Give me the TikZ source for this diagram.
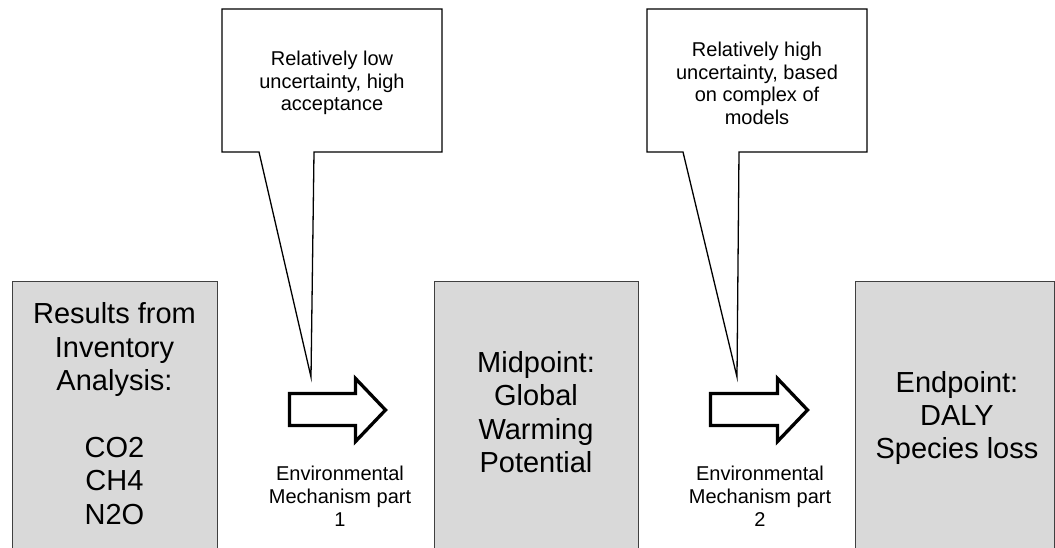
\documentclass[tikz,border=0pt]{standalone}
\usepackage{fontspec}
\setmainfont{Liberation Sans}
\begin{document}
\begin{tikzpicture}[x=1pt,y=-1pt,
  panel/.style={draw=black!75, line width=1.2pt, fill=black!15, inner sep=0pt, anchor=north west},
  paneltext/.style={align=center, inner sep=0pt, font=\fontsize{29}{33.4}\selectfont},
  callout/.style={draw=black, line width=1.3pt, fill=white, line join=miter},
  callouttext/.style={align=center, inner sep=0pt, anchor=north, font=\fontsize{20}{22.5}\selectfont},
  blockarrow/.style={draw=black, line width=3.3pt, fill=white, line join=miter},
  mechtext/.style={align=center, inner sep=0pt, anchor=north, font=\fontsize{20}{23}\selectfont}]
\path[use as bounding box, clip] (0,0) rectangle (1055,548);

% three stage panels, running off the bottom edge
\node[panel, minimum width=205pt, minimum height=300pt] (inv) at (12,281) {};
\node[panel, minimum width=204pt, minimum height=300pt] (mid) at (434,281) {};
\node[panel, minimum width=199pt, minimum height=300pt] (end) at (855,281) {};

\node[paneltext] (invtext) at (114.5,413.5)
  {Results from\\Inventory\\Analysis:\\[33.4pt]CO2\\CH4\\N2O};
\node[paneltext] (midtext) at (536,412) {Midpoint:\\Global\\Warming\\Potential};
\node[paneltext] (endtext) at (957,418) {Endpoint:\\DALY\\Species loss};

% block arrows between the panels
\coordinate (a1) at (289.5,393.5);
\coordinate (a2) at (710.5,393.5);
\draw[blockarrow] (a1) -- ++(66,0) -- ++(0,-15) -- ++(30,31.5) -- ++(-30,31.5)
  -- ++(0,-16) -- ++(-66,0) -- cycle;
\draw[blockarrow] (a2) -- ++(67,0) -- ++(0,-15) -- ++(30,31.5) -- ++(-30,31.5)
  -- ++(0,-16) -- ++(-67,0) -- cycle;

\node[mechtext] (mech1) at (340,465.5) {Environmental\\Mechanism part\\1};
\node[mechtext] (mech2) at (760,465.5) {Environmental\\Mechanism part\\2};

% speech-bubble callouts pointing at the arrows
\coordinate (tip1) at (311,377);
\coordinate (tip2) at (737,377);
\draw[callout] (222,9) -- (442,9) -- (442,152) -- (314,152) -- (tip1)
  -- (259,152) -- (222,152) -- cycle;
\draw[callout] (647,9) -- (867,9) -- (867,152) -- (739,152) -- (tip2)
  -- (683,152) -- (647,152) -- cycle;

\node[callouttext] (note1) at (332,51) {Relatively low\\uncertainty, high\\acceptance};
\node[callouttext] (note2) at (757,42) {Relatively high\\uncertainty, based\\on complex of\\models};
\end{tikzpicture}
\end{document}
